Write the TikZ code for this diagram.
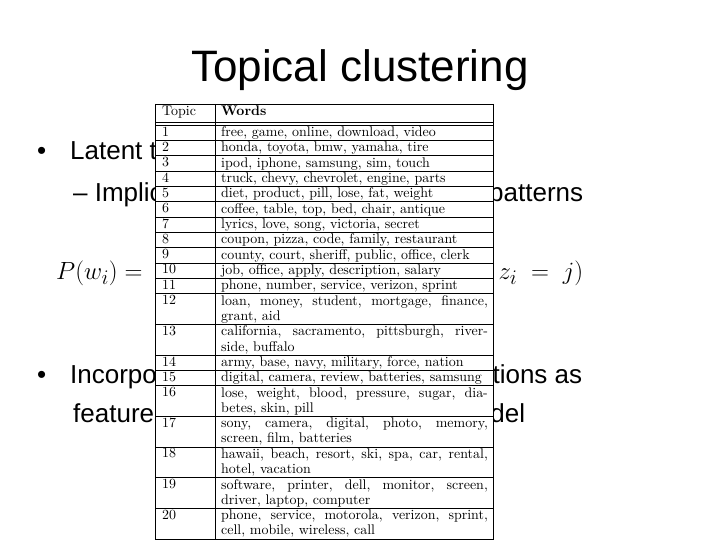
\documentclass[tikz,border=0pt]{standalone}
\usepackage{fontspec}
\setmainfont{Latin Modern Roman}
\newfontfamily\arial{Liberation Sans}
\begin{document}
\begin{tikzpicture}[x=1pt,y=-1pt,
  bul/.style={anchor=base west,inner sep=0,font=\arial\fontsize{26}{30}\selectfont},
  num/.style={anchor=north west,inner sep=0},
  wrd/.style={anchor=north west,inner sep=0}]
\useasboundingbox (0,0) rectangle (720,540);
\fill[white] (0,0) rectangle (720,540);
\node[font=\arial\fontsize{44}{50}\selectfont,inner sep=0] (title) at (360,70) {Topical clustering};
\node[bul] (b1) at (37,160) {\makebox[33pt][l]{\textbullet}Latent topic models};
\node[bul] (b2) at (73,202) {\makebox[510pt][s]{\textendash\ Implicit\hfill word co-occurrence patterns}};
\node[anchor=west,inner sep=0,font=\fontsize{28.5}{30}\selectfont] (f) at (56,275) {\makebox[527pt][s]{$P(w_i)=$\hfill$\sum_j P(w_i\mid z_i\;=\;j)$}};
\node[bul] (b3) at (37,383) {\makebox[545pt][s]{\makebox[33pt][l]{\textbullet}Incorporate topic\hfill distributions as}};
\node[bul] (b4) at (73,422) {\makebox[452pt][s]{features in\hfill click model}};
% table
\fill[white] (155,104) rectangle (493,540);
\def\u{15.33}
\draw[line width=0.8pt] (155,104) -- (493,104);
\draw[line width=0.8pt] (155,122) -- (493,122);
\draw[line width=0.8pt] (155,125) -- (493,125);
\draw[line width=0.8pt] (155,104) -- (155,540) (215,104) -- (215,540) (493,104) -- (493,540);
\node[num] (th) at (162,106) {\scalebox{1.27}{\fontsize{11}{12}\selectfont Topic}};
\node[num] (tw) at (221,106) {\scalebox{1.27}{\fontsize{11}{12}\selectfont\bfseries Words}};
\def\rows{1/1/{free, game, online, download, video},2/1/{honda, toyota, bmw, yamaha, tire},3/1/{ipod, iphone, samsung, sim, touch},4/1/{truck, chevy, chevrolet, engine, parts},5/1/{diet, product, pill, lose, fat, weight},6/1/{coffee, table, top, bed, chair, antique},7/1/{lyrics, love, song, victoria, secret},8/1/{coupon, pizza, code, family, restaurant},9/1/{county, court, sheriff, public, office, clerk},10/1/{job, office, apply, description, salary},11/1/{phone, number, service, verizon, sprint},12/2/{loan, money, student, mortgage, finance,\linebreak grant, aid},13/2/{california, sacramento, pittsburgh, river-\linebreak side, buffalo},14/1/{army, base, navy, military, force, nation},15/1/{digital, camera, review, batteries, samsung},16/2/{lose, weight, blood, pressure, sugar, dia-\linebreak betes, skin, pill},17/2/{sony, camera, digital, photo, memory,\linebreak screen, film, batteries},18/2/{hawaii, beach, resort, ski, spa, car, rental,\linebreak hotel, vacation},19/2/{software, printer, dell, monitor, screen,\linebreak driver, laptop, computer},20/2/{phone, service, motorola, verizon, sprint,\linebreak cell, mobile, wireless, call}}
\newcount\cu \cu=0
\foreach \n/\h/\w in \rows {
  \pgfmathsetmacro\ya{125+\cu*\u}
  \global\advance\cu by \h
  \pgfmathsetmacro\yb{125+\cu*\u}
  \node[num] (n\n) at (162,\ya+1.5) {\scalebox{1.27}{\fontsize{11}{12}\selectfont\n}};
  \node[wrd] (w\n) at (221,\ya+1.5) {\scalebox{1.27}{\parbox[t]{210pt}{\fontsize{11}{12.07}\selectfont\hbadness=10000\hfuzz=20pt\w}}};
  \draw[line width=0.6pt] (155,\yb) -- (493,\yb);
}
\end{tikzpicture}
\end{document}
